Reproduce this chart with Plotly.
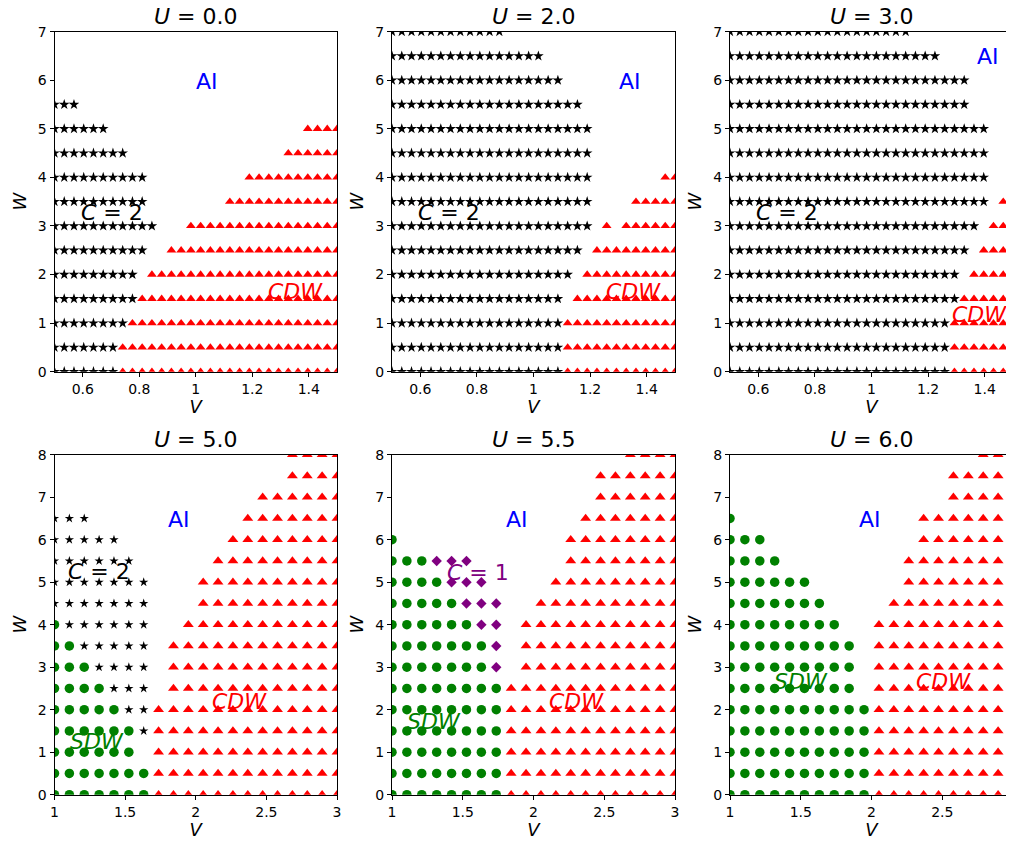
import numpy as np
import plotly.graph_objects as go

# ---------------- data ----------------
V_TOP = np.linspace(0.5, 1.5, 30)      # V grid, upper row of panels
V_BOT = np.linspace(1.0, 3.0, 20)      # V grid, lower row of panels
W_TOP = [0.0, 0.5, 1.0, 1.5, 2.0, 2.5, 3.0, 3.5, 4.0, 4.5, 5.0, 5.5, 6.0, 6.5, 7.0]
W_BOT = [0.0, 0.5, 1.0, 1.5, 2.0, 2.5, 3.0, 3.5, 4.0, 4.5, 5.0, 5.5, 6.0, 6.5, 7.0, 7.5, 8.0]

U_VALUES = ["0.0", "2.0", "3.0", "5.0", "5.5", "6.0"]

# per W row: last V-index of the C=2 (star) phase, first V-index of CDW (triangles)
U0_C2_END = [6, 6, 7, 8, 8, 9, 10, 9, 9, 7, 5, 2, -1, -1, -1]
U0_CDW_START = [7, 7, 8, 9, 10, 12, 14, 18, 20, 24, 26, 30, 30, 30, 30]

U2_C2_END = [17, 17, 17, 17, 18, 19, 20, 20, 20, 20, 20, 19, 17, 15, 11]
U2_CDW_START = [18, 18, 18, 19, 20, 21, 24, 25, 28, 30, 30, 30, 30, 30, 30]
U2_CDW_EXTRA_K = [22]
U2_CDW_EXTRA_W = [3.0]

U3_C2_END = [22, 22, 22, 23, 23, 24, 25, 26, 26, 26, 26, 24, 24, 21, 18]
U3_CDW_START = [23, 23, 23, 24, 25, 26, 27, 28, 30, 30, 30, 30, 30, 30, 30]

# lower panels: SDW (circles) from index 0 to SDW_END, then second phase up to its END
U5_SDW_END = [6, 6, 5, 5, 4, 3, 2, 1, 0, -1, -1, -1, -1, -1, -1, -1, -1]
U5_C2_END = [-1, -1, -1, 6, 6, 6, 6, 6, 6, 6, 6, 5, 4, 2, -1, -1, -1]
U5_CDW_START = [7, 7, 7, 7, 7, 8, 8, 8, 9, 10, 10, 11, 12, 13, 14, 16, 16]

U55_SDW_END = [7, 7, 7, 7, 7, 7, 6, 6, 5, 4, 3, 2, 0, -1, -1, -1, -1]
U55_C1_END = [-1, -1, -1, -1, -1, -1, 7, 7, 7, 7, 6, 5, -1, -1, -1, -1, -1]
U55_CDW_START = [8, 8, 8, 8, 8, 8, 9, 9, 9, 10, 11, 12, 12, 13, 14, 14, 16]

U6_SDW_END = [9, 9, 9, 9, 9, 8, 8, 8, 7, 6, 5, 3, 2, 0, -1, -1, -1]
U6_CDW_START = [10, 10, 10, 10, 10, 10, 10, 10, 10, 11, 12, 12, 13, 13, 15, 15, 17]


def span_points(V, W, starts, ends):
    xs, ys = [], []
    for w, s, e in zip(W, starts, ends):
        for k in range(s, e + 1):
            if 0 <= k < len(V):
                xs.append(V[k])
                ys.append(w)
    return xs, ys


RED = "#ff0000"
GREEN = "#008000"
PURPLE = "#800080"
BLACK = "#000000"
BLUE = "#0000ff"

fig = go.Figure()


def add(xs, ys, symbol, color, size, idx):
    fig.add_trace(go.Scatter(
        x=xs, y=ys, mode="markers",
        marker=dict(symbol=symbol, color=color, size=size, line=dict(width=0)),
        xaxis="x" if idx == 1 else f"x{idx}",
        yaxis="y" if idx == 1 else f"y{idx}",
        showlegend=False, hoverinfo="x+y"))


nT = len(W_TOP)
nB = len(W_BOT)

# upper panels
for idx, (c2end, cdwstart) in enumerate([(U0_C2_END, U0_CDW_START),
                                         (U2_C2_END, U2_CDW_START),
                                         (U3_C2_END, U3_CDW_START)], start=1):
    xs, ys = span_points(V_TOP, W_TOP, [0] * nT, c2end)
    add(xs, ys, "star", BLACK, 8, idx)
    xs, ys = span_points(V_TOP, W_TOP, cdwstart, [len(V_TOP) - 1] * nT)
    if idx == 2:
        xs += [V_TOP[k] for k in U2_CDW_EXTRA_K]
        ys += list(U2_CDW_EXTRA_W)
    add(xs, ys, "triangle-up", RED, 8.5, idx)

# U = 5.0
xs, ys = span_points(V_BOT, W_BOT, [0] * nB, U5_SDW_END)
add(xs, ys, "circle", GREEN, 9.5, 4)
xs, ys = span_points(V_BOT, W_BOT, [e + 1 for e in U5_SDW_END], U5_C2_END)
add(xs, ys, "star", BLACK, 7, 4)
xs, ys = span_points(V_BOT, W_BOT, U5_CDW_START, [len(V_BOT) - 1] * nB)
add(xs, ys, "triangle-up", RED, 9.5, 4)

# U = 5.5
xs, ys = span_points(V_BOT, W_BOT, [0] * nB, U55_SDW_END)
add(xs, ys, "circle", GREEN, 9.5, 5)
xs, ys = span_points(V_BOT, W_BOT, [e + 1 for e in U55_SDW_END], U55_C1_END)
add(xs, ys, "diamond", PURPLE, 8, 5)
xs, ys = span_points(V_BOT, W_BOT, U55_CDW_START, [len(V_BOT) - 1] * nB)
add(xs, ys, "triangle-up", RED, 9.5, 5)

# U = 6.0
xs, ys = span_points(V_BOT, W_BOT, [0] * nB, U6_SDW_END)
add(xs, ys, "circle", GREEN, 9.5, 6)
xs, ys = span_points(V_BOT, W_BOT, U6_CDW_START, [len(V_BOT) - 1] * nB)
add(xs, ys, "triangle-up", RED, 9.5, 6)

# ---------------- layout ----------------
# the page body has an 8 px margin, so the figure is 8 px smaller and
# every reference pixel position is shifted by 8 px
OFF = 8
FW, FH = 1014 - OFF, 844 - OFF
COLS_PX = [(54.5 - OFF, 337.0 - OFF), (392.0 - OFF, 675.0 - OFF), (730.0 - OFF, 1013.0 - OFF)]
ROWS_PX = [(31.7 - OFF, 371.7 - OFF), (454.7 - OFF, 794.7 - OFF)]
FONT = "DejaVu Sans"

layout = dict(width=FW, height=FH, margin=dict(l=0, r=0, t=0, b=0, autoexpand=False),
              plot_bgcolor="white", paper_bgcolor="white",
              font=dict(family=FONT, color="black"))

annotations = []
for i in range(6):
    r, c = divmod(i, 3)
    idx = i + 1
    x0, x1 = COLS_PX[c]
    y0, y1 = ROWS_PX[r]
    xd = [x0 / FW, min(x1 / FW, 1.0)]
    yd = [1 - y1 / FH, 1 - y0 / FH]
    if r == 0:
        xr, yr = [0.5, 1.5], [0, 7]
        xt = [0.6, 0.8, 1.0, 1.2, 1.4]
        xtt = ["0.6", "0.8", "1", "1.2", "1.4"]
        yt = list(range(0, 8))
    else:
        xr, yr = [1, 3], [0, 8]
        xt = [1, 1.5, 2, 2.5, 3]
        xtt = ["1", "1.5", "2", "2.5", "3"]
        yt = list(range(0, 9))
    common = dict(showline=True, linecolor="black", linewidth=1, mirror=True,
                  ticks="outside", ticklen=4, tickwidth=1, tickcolor="black",
                  showgrid=False, zeroline=False, automargin=False,
                  tickfont=dict(family=FONT, size=14, color="black"))
    xa = dict(domain=xd, range=xr, tickvals=xt, ticktext=xtt,
              anchor="y" if idx == 1 else f"y{idx}",
              title=dict(text="<i>V</i>", font=dict(family=FONT, size=18), standoff=0),
              **common)
    ya = dict(domain=yd, range=yr, tickvals=yt, ticktext=[str(v) for v in yt],
              anchor="x" if idx == 1 else f"x{idx}",
              title=dict(text="<i>W</i>", font=dict(family=FONT, size=18), standoff=6),
              **common)
    layout["xaxis" if idx == 1 else f"xaxis{idx}"] = xa
    layout["yaxis" if idx == 1 else f"yaxis{idx}"] = ya
    # subplot title, centred about 15 px above the top of the axes
    annotations.append(dict(
        text=f"<i>U</i> = {U_VALUES[i]}", xref="paper", yref="paper",
        x=(x0 + x1) / 2 / FW, y=1 - (y0 - 15) / FH, xanchor="center", yanchor="middle",
        showarrow=False, borderpad=0, font=dict(family=FONT, size=22, color="black")))

LABELS = [
    # panel, text, V, W, colour
    (1, "AI", 1.04, 5.97, BLUE),
    (1, "<i>C</i> = 2", 0.703, 3.27, BLACK),
    (1, "<i>CDW</i>", 1.353, 1.65, RED),
    (2, "AI", 1.341, 5.97, BLUE),
    (2, "<i>C</i> = 2", 0.703, 3.27, BLACK),
    (2, "<i>CDW</i>", 1.353, 1.65, RED),
    (3, "AI", 1.41, 6.48, BLUE),
    (3, "<i>C</i> = 2", 0.703, 3.27, BLACK),
    (3, "<i>CDW</i>", 1.38, 1.17, RED),
    (4, "AI", 1.88, 6.47, BLUE),
    (4, "<i>C</i> = 2", 1.314, 5.26, BLACK),
    (4, "<i>CDW</i>", 2.307, 2.2, RED),
    (4, "<i>SDW</i>", 1.30, 1.26, GREEN),
    (5, "AI", 1.88, 6.47, BLUE),
    (5, "<i>C</i> = 1", 1.61, 5.22, PURPLE),
    (5, "<i>CDW</i>", 2.307, 2.2, RED),
    (5, "<i>SDW</i>", 1.30, 1.73, GREEN),
    (6, "AI", 1.99, 6.47, BLUE),
    (6, "<i>SDW</i>", 1.50, 2.67, GREEN),
    (6, "<i>CDW</i>", 2.51, 2.67, RED),
]
for p, t, vx, wy, col in LABELS:
    annotations.append(dict(
        text=t, x=vx, y=wy, xref="x" if p == 1 else f"x{p}", yref="y" if p == 1 else f"y{p}",
        xanchor="center", yanchor="middle", showarrow=False,
        font=dict(family=FONT, size=22, color=col)))

layout["annotations"] = annotations
fig.update_layout(**layout)
fig.write_html("out.html")
